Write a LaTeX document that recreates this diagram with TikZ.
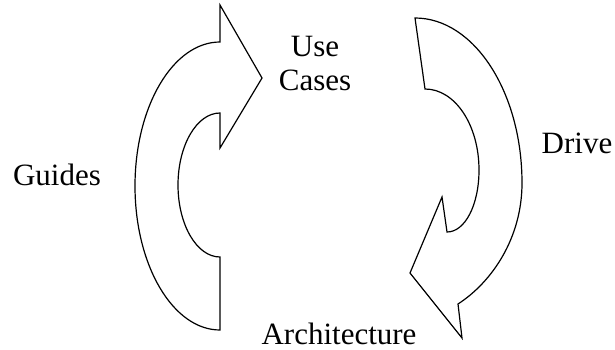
\documentclass[tikz,border=0pt]{standalone}
\usepackage{fontspec}
\setmainfont{Liberation Serif}
\tikzset{
  blk/.style={line width=1.2pt,line join=miter},
  lbl/.style={font=\fontsize{31}{34}\selectfont,inner sep=0pt,anchor=base,align=center}
}

\begin{document}
\begin{tikzpicture}[x=1pt,y=-1pt]
\useasboundingbox (0,0) rectangle (615,350);
% left block arrow, bending up to the right
\draw[blk] (220,330) arc[start angle=90,end angle=270,x radius=85,y radius=144]
  -- (220,5) -- (262,78) -- (220,148) -- (220,113)
  arc[start angle=270,end angle=90,x radius=42,y radius=72] -- cycle;
% right block arrow, bending down to the left
\draw[blk] (415,18) .. controls (474,18) and (522,92) .. (522,183)
  .. controls (522,238) and (492,282) .. (458,304)
  -- (462,338) -- (410,273) -- (442,197) -- (447,232)
  .. controls (465,232) and (479,205) .. (479,170)
  .. controls (479,125) and (455,89) .. (425,89) -- cycle;
\node[lbl] (usecases) at (315,91) {Use\\Cases};
\node[lbl] (guides) at (57,185) {Guides};
\node[lbl] (drive) at (577,153) {Drive};
\node[lbl] (arch) at (339,344) {Architecture};
\end{tikzpicture}
\end{document}
